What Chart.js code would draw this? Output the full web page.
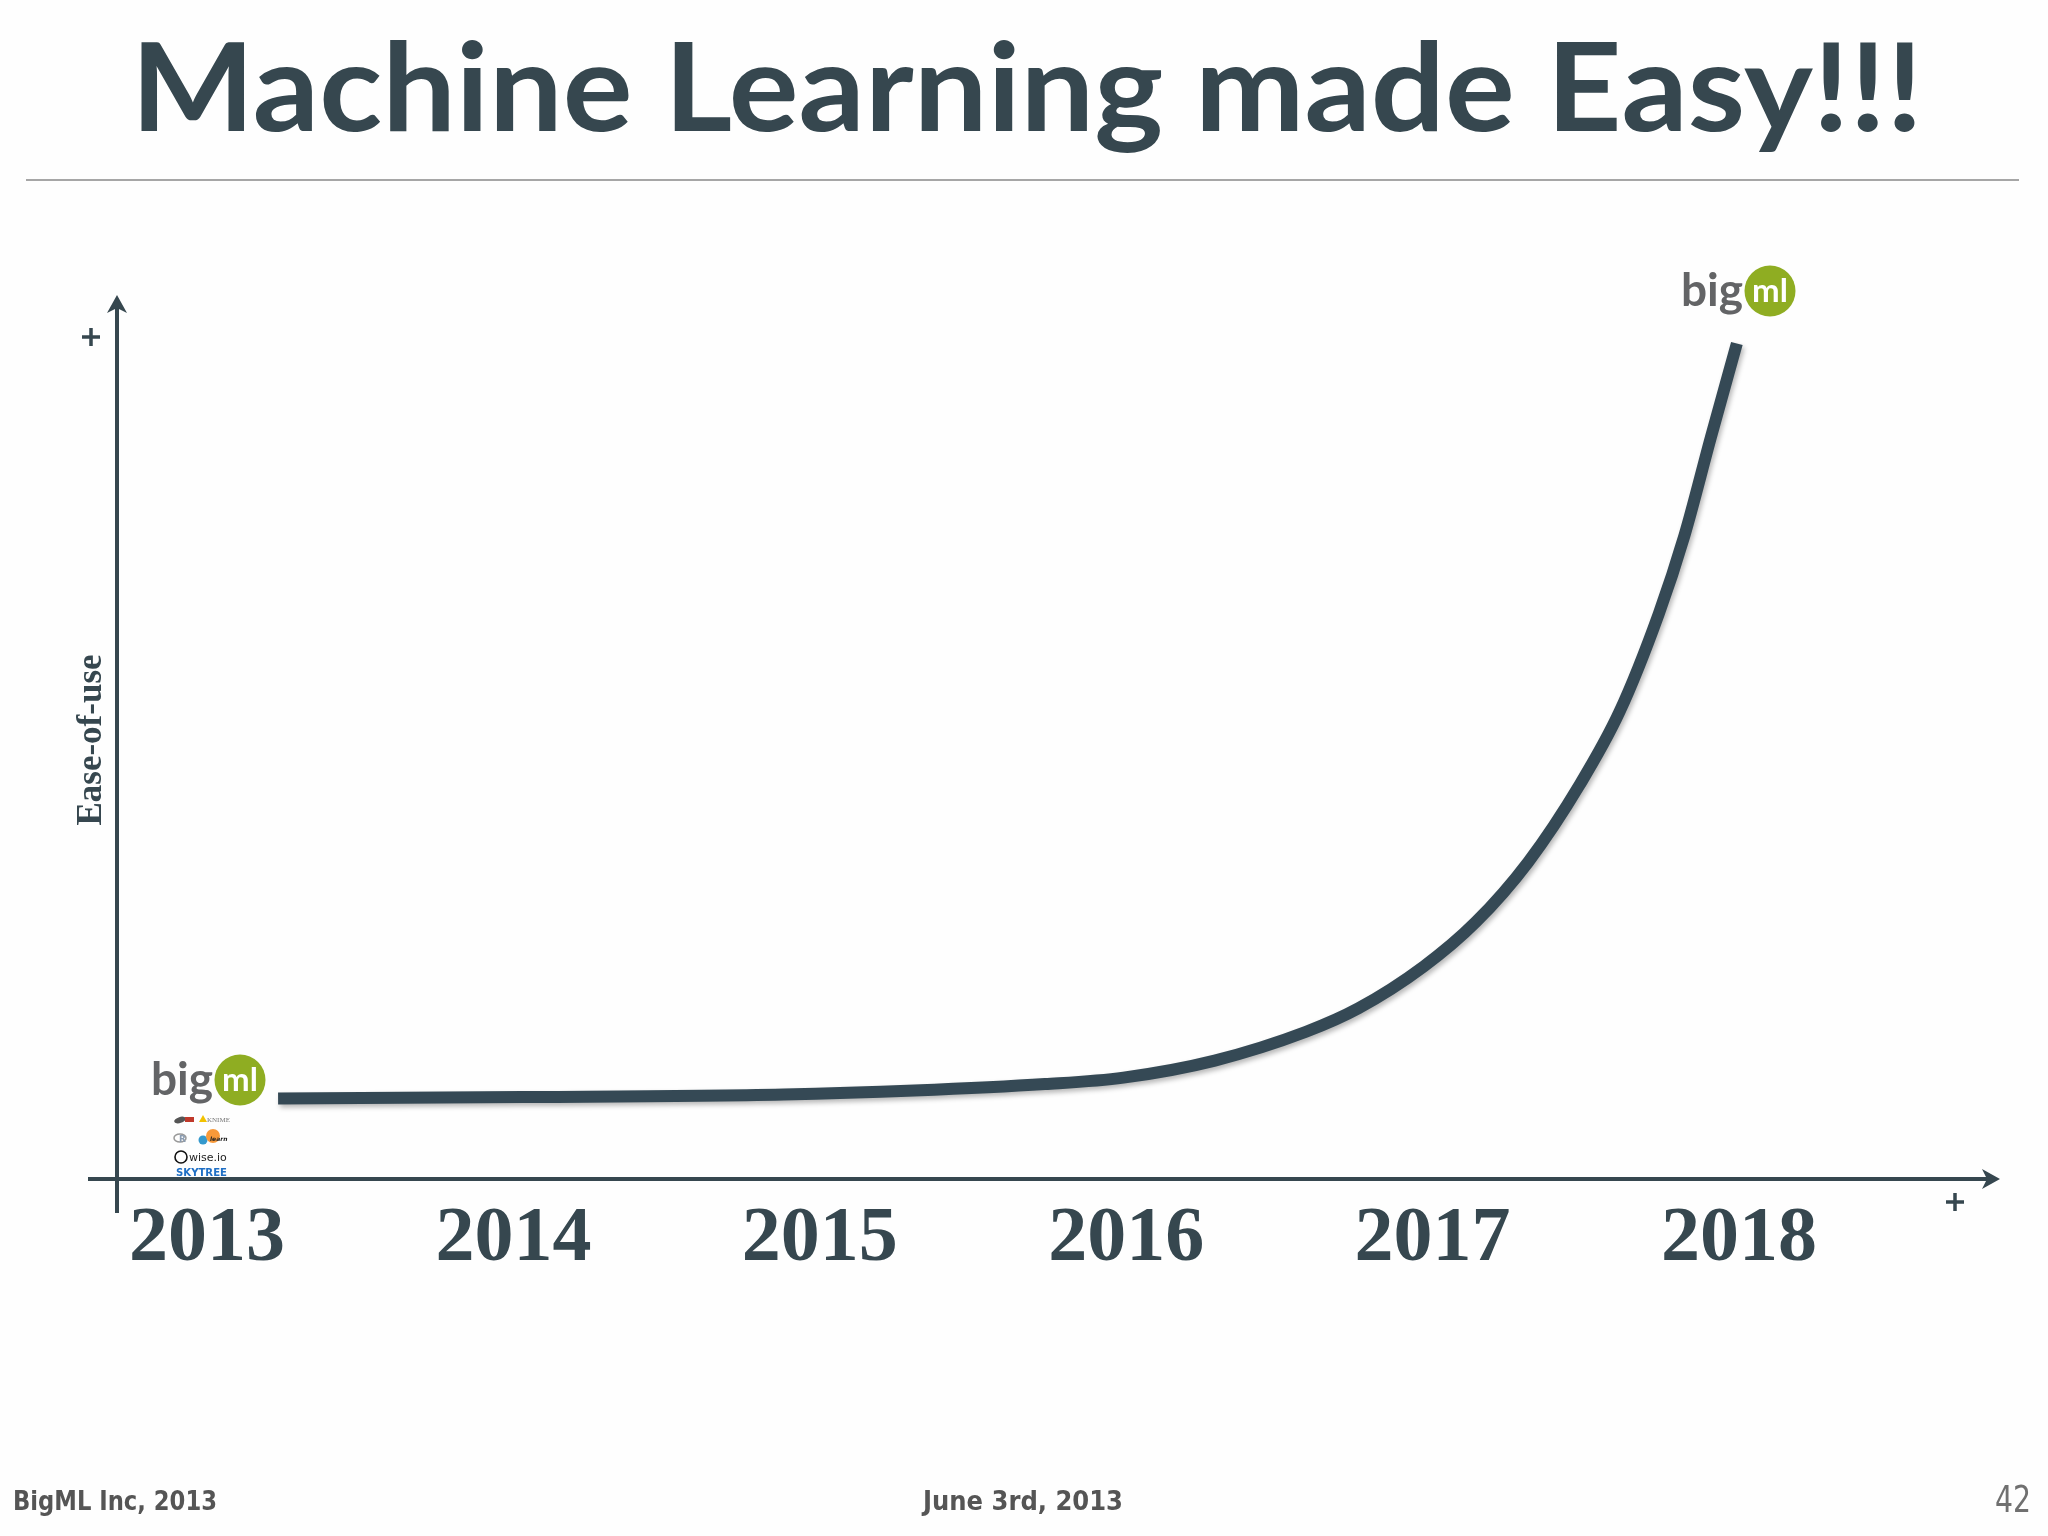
<!DOCTYPE html>
<html><head><meta charset="utf-8">
<script src="https://cdn.jsdelivr.net/npm/chart.js@4.4.0/dist/chart.umd.min.js"></script>
<style>
html,body{margin:0;padding:0;background:#fefefe;}
#wrap{position:relative;width:2048px;height:1536px;overflow:hidden;background:#fefefe;}
#c{position:absolute;left:0;top:0;}
</style></head><body>
<div id="wrap"><canvas id="c" width="2048" height="1536"></canvas></div>
<script>
// ---- data ----
const yearTicks = [2013, 2014, 2015, 2016, 2017, 2018];
const curveYears = [2013.232, 2014.029, 2014.882, 2015.308, 2015.735, 2015.991, 2016.289, 2016.587,
  2016.758, 2016.971, 2017.141, 2017.312, 2017.482, 2017.610, 2017.738, 2017.822, 2017.908, 2017.993];
const easeOfUse = [9.18, 9.33, 9.62, 10.07, 10.81, 11.55, 13.49, 16.77, 19.44, 24.20, 29.26,
  36.10, 45.02, 53.21, 64.36, 73.29, 84.45, 95.16];
const titleText = 'Machine Learning made Easy!!!';
const yTitle = 'Ease-of-use';
const footerLeft = 'BigML Inc, 2013';
const footerMid = 'June 3rd, 2013';
const pageNo = '42';

const ink = '#36474f';

function fitText(ctx, text, font, x, y, width, color, align) {
  ctx.save();
  ctx.font = font;
  ctx.fillStyle = color;
  ctx.textBaseline = 'alphabetic';
  ctx.textAlign = 'left';
  const w = ctx.measureText(text).width;
  const sx = width / w;
  const left = align === 'right' ? x - width : x;
  ctx.translate(left, y);
  ctx.scale(sx, 1);
  ctx.fillText(text, 0, 0);
  ctx.restore();
}

function drawBigml(ctx, cx, cy) {
  ctx.save();
  ctx.font = "bold 46px Lato, 'Open Sans', sans-serif";
  ctx.fillStyle = '#636466';
  ctx.textAlign = 'right';
  ctx.textBaseline = 'alphabetic';
  ctx.fillText('big', cx - 27, cy + 15);
  ctx.beginPath();
  ctx.arc(cx, cy, 25.5, 0, Math.PI * 2);
  ctx.fillStyle = '#8fad22';
  ctx.fill();
  ctx.fillStyle = '#ffffff';
  ctx.textAlign = 'center';
  ctx.font = "bold 33px Lato, 'Open Sans', sans-serif";
  ctx.fillText('ml', cx, cy + 11);
  ctx.restore();
}

function drawSmallLogos(ctx) {
  ctx.save();
  ctx.fillStyle = '#555';
  ctx.beginPath(); ctx.ellipse(180, 1120, 6, 3, -0.3, 0, Math.PI * 2); ctx.fill();
  ctx.fillStyle = '#c0392b';
  ctx.fillRect(185, 1117, 9, 5);
  ctx.fillStyle = '#f2c200';
  ctx.beginPath(); ctx.moveTo(203, 1115); ctx.lineTo(207, 1122); ctx.lineTo(199, 1122); ctx.closePath(); ctx.fill();
  ctx.fillStyle = '#777';
  ctx.font = "7px 'Liberation Serif'";
  ctx.fillText('KNIME', 207, 1122);
  ctx.strokeStyle = '#999'; ctx.lineWidth = 1.5;
  ctx.beginPath(); ctx.ellipse(180, 1138, 6, 4, 0, 0, Math.PI * 2); ctx.stroke();
  ctx.fillStyle = '#8a9bb0';
  ctx.font = "bold 9px 'DejaVu Sans'";
  ctx.fillText('R', 179, 1142);
  ctx.fillStyle = '#3499cd';
  ctx.beginPath(); ctx.arc(203, 1140, 4.5, 0, Math.PI * 2); ctx.fill();
  ctx.fillStyle = '#f89939';
  ctx.beginPath(); ctx.arc(213, 1136, 7, 0, Math.PI * 2); ctx.fill();
  ctx.fillStyle = '#222';
  ctx.font = "italic bold 6px 'DejaVu Sans'";
  ctx.fillText('learn', 210, 1141);
  ctx.strokeStyle = '#111'; ctx.lineWidth = 1.6;
  ctx.beginPath(); ctx.arc(181, 1157, 6, 0, Math.PI * 2); ctx.stroke();
  ctx.fillStyle = '#222';
  ctx.font = "11px 'DejaVu Sans'";
  ctx.fillText('wise.io', 189, 1161);
  fitText(ctx, 'SKYTREE', "bold 10px 'DejaVu Sans'", 176, 1176, 51, '#1f6fc5');
  ctx.restore();
}

const shadowPlugin = {
  id: 'curveShadow',
  beforeDatasetsDraw(chart) {
    const ctx = chart.ctx;
    ctx.save();
    ctx.shadowColor = 'rgba(0,0,0,0.28)';
    ctx.shadowBlur = 5;
    ctx.shadowOffsetX = 2;
    ctx.shadowOffsetY = 3;
  },
  afterDatasetsDraw(chart) { chart.ctx.restore(); }
};

const decorPlugin = {
  id: 'decor',
  beforeDraw(chart) {
    const ctx = chart.ctx;
    ctx.save();
    ctx.fillStyle = '#fefefe';
    ctx.fillRect(0, 0, chart.width, chart.height);
    ctx.restore();
  },
  afterDraw(chart) {
    const ctx = chart.ctx;
    const a = chart.chartArea;
    const L = a.left, R = a.right, T = a.top, B = a.bottom;
    ctx.save();
    ctx.strokeStyle = ink; ctx.fillStyle = ink; ctx.lineWidth = 4; ctx.lineCap = 'butt';
    // x axis
    ctx.beginPath(); ctx.moveTo(L - 29, B); ctx.lineTo(R - 10, B); ctx.stroke();
    ctx.beginPath(); ctx.moveTo(R, B); ctx.lineTo(R - 18, B - 10); ctx.lineTo(R - 13, B); ctx.lineTo(R - 18, B + 10); ctx.closePath(); ctx.fill();
    // y axis
    const tipY = T - 6;
    ctx.beginPath(); ctx.moveTo(L, B + 34); ctx.lineTo(L, tipY + 10); ctx.stroke();
    ctx.beginPath(); ctx.moveTo(L, tipY); ctx.lineTo(L - 10, tipY + 18); ctx.lineTo(L, tipY + 13); ctx.lineTo(L + 10, tipY + 18); ctx.closePath(); ctx.fill();
    function plus(x, y) { ctx.fillRect(x - 9, y - 1.75, 18, 3.5); ctx.fillRect(x - 1.75, y - 9, 3.5, 18); }
    plus(L - 26, T + 36);
    plus(R - 45, B + 23);
    ctx.restore();

    drawBigml(ctx, 1770, 291);
    drawBigml(ctx, 240, 1080);
    drawSmallLogos(ctx);

    fitText(ctx, titleText, "bold 122px Lato, 'Open Sans'", 131, 131, 1792, ink);
    ctx.save();
    ctx.fillStyle = '#a6a6a6';
    ctx.fillRect(26, 179, 1993, 2);
    ctx.restore();

    fitText(ctx, footerLeft, "bold 27px 'DejaVu Sans Condensed', 'DejaVu Sans'", 13, 1510, 204, '#555555');
    fitText(ctx, footerMid, "bold 27px 'DejaVu Sans Condensed', 'DejaVu Sans'", 923, 1510, 200, '#555555');
    fitText(ctx, pageNo, "38px 'DejaVu Sans Condensed', 'DejaVu Sans'", 2031, 1512, 36, '#707070', 'right');
  }
};

new Chart(document.getElementById('c'), {
  type: 'line',
  data: {
    datasets: [{
      data: curveYears.map((x, i) => ({ x: x, y: easeOfUse[i] })),
      borderColor: '#354955',
      borderWidth: 12,
      pointRadius: 0,
      pointHoverRadius: 0,
      cubicInterpolationMode: 'monotone',
      borderCapStyle: 'butt',
      fill: false,
      clip: false
    }]
  },
  options: {
    responsive: false,
    animation: false,
    devicePixelRatio: 1,
    layout: { padding: { top: 301, right: 48, bottom: 0, left: 0 } },
    plugins: { legend: { display: false }, tooltip: { enabled: false } },
    scales: {
      x: {
        type: 'linear',
        min: 2012.7063,
        max: 2018.8518,
        grid: { display: false, drawTicks: false },
        border: { display: false },
        afterBuildTicks: s => { s.ticks = yearTicks.map(v => ({ value: v })); },
        afterFit: s => { s.height = 357; },
        ticks: {
          padding: 14,
          autoSkip: false,
          maxRotation: 0,
          color: ink,
          font: { family: "'Liberation Serif'", weight: 'bold', size: 78 },
          callback: v => String(v)
        }
      },
      y: {
        min: 0,
        max: 100,
        grid: { display: false },
        border: { display: false },
        ticks: { display: false },
        afterFit: s => { s.width = 117; },
        title: {
          display: true,
          text: yTitle,
          color: ink,
          font: { family: "'Liberation Serif'", weight: 'bold', size: 35 },
          padding: { top: 71, bottom: 0 }
        }
      }
    }
  },
  plugins: [shadowPlugin, decorPlugin]
});
</script>
</body></html>
